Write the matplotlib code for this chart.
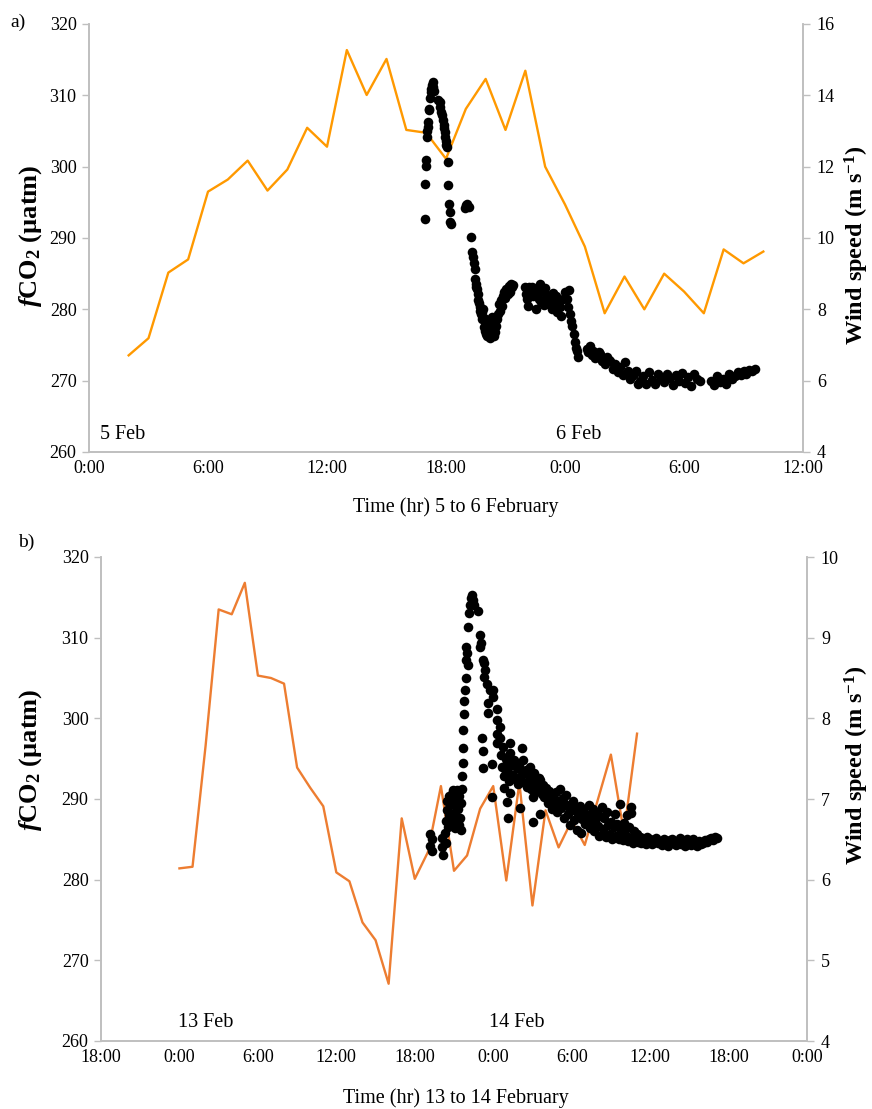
import matplotlib
matplotlib.use("Agg")
import matplotlib.pyplot as plt
import numpy as np

plt.rcParams['font.family'] = ['Liberation Serif', 'DejaVu Serif']
plt.rcParams['mathtext.fontset'] = 'custom'
plt.rcParams['mathtext.rm'] = 'Liberation Serif:bold'
plt.rcParams['mathtext.it'] = 'Liberation Serif:italic:bold'
plt.rcParams['mathtext.bf'] = 'Liberation Serif:bold'

# ---------------- Panel a data (hours since 0:00 on 5 Feb) ----------------
wind_a_hours = [2, 3, 4, 5, 6, 7, 8, 9, 10, 11, 12, 13, 14, 15, 16, 17, 18,
                19, 20, 21, 22, 23, 24, 25, 26, 27, 28, 29, 30, 31, 32, 33, 34]
wind_a_speed = [6.71, 7.19, 9.03, 9.40, 11.30, 11.64, 12.17, 11.33, 11.92, 13.09,
                12.56, 15.27, 14.01, 15.02, 13.03, 12.95, 12.22, 13.62, 14.46,
                13.03, 14.69, 12.00, 10.94, 9.76, 7.89, 8.92, 8.00, 9.00, 8.50,
                7.89, 9.68, 9.29, 9.62]

fco2_a_hours = [
    16.92, 16.95, 16.97, 17.00, 17.03, 17.05, 17.08, 17.10, 17.13, 17.16, 17.20,
    17.23, 17.26, 17.30, 17.33, 17.36, 17.40,
    17.62, 17.68, 17.72, 17.76, 17.80, 17.84, 17.88, 17.90, 17.93, 17.96, 17.99,
    18.02, 18.05, 18.08, 18.12, 18.15, 18.18, 18.20, 18.23,
    18.98, 19.03, 19.08, 19.15, 19.28, 19.33, 19.36, 19.40, 19.44, 19.48, 19.50,
    19.53, 19.57, 19.60, 19.63, 19.67, 19.70, 19.73, 19.77, 19.80, 19.84, 19.87,
    19.90, 19.93, 19.97, 20.00, 20.03, 20.07, 20.10, 20.13, 20.17, 20.20, 20.23,
    20.27, 20.30, 20.33, 20.37, 20.40, 20.44, 20.48, 20.52, 20.57, 20.62, 20.67,
    20.72, 20.78, 20.83, 20.88, 20.93, 20.98, 21.05, 21.12, 21.18, 21.23, 21.30,
    21.35, 21.40,
    21.99, 22.03, 22.08, 22.12, 22.18, 22.25, 22.34, 22.40, 22.48, 22.55, 22.62,
    22.70, 22.74, 22.80, 22.86, 22.92, 23.00, 23.05, 23.10, 23.18, 23.25, 23.32,
    23.40, 23.48, 23.55, 23.62, 23.68, 23.75, 23.82, 23.90, 24.00, 24.08, 24.14,
    24.20, 24.26, 24.32, 24.36, 24.44, 24.50, 24.56, 24.62, 24.66,
    25.11, 25.18, 25.26, 25.34, 25.42, 25.52, 25.62, 25.70, 25.77, 25.85, 25.92,
    26.02, 26.12, 26.20, 26.27, 26.40, 26.53, 26.65, 26.78, 26.90, 27.03, 27.18,
    27.28, 27.38, 27.48, 27.58, 27.68, 27.79,
    27.95, 28.10, 28.25, 28.40, 28.55, 28.70, 28.85, 29.00, 29.15, 29.30, 29.45,
    29.60, 29.75, 29.90, 30.05, 30.20, 30.35, 30.50, 30.65, 30.80,
    31.35, 31.50, 31.65, 31.80, 31.95, 32.10, 32.25, 32.40, 32.55, 32.70, 32.85,
    33.00, 33.15, 33.30, 33.45, 33.60]
fco2_a_values = [
    292.7, 297.6, 300.1, 301.0, 304.2, 305.0, 305.6, 306.3, 307.9, 308.1, 309.6,
    310.4, 310.9, 311.5, 311.8, 311.2, 310.6,
    309.4, 309.0, 308.4, 307.7, 307.2, 306.6, 305.9, 305.4, 304.9, 304.2, 303.6,
    303.0, 302.7, 300.6, 297.4, 294.8, 293.6, 292.3, 291.9,
    294.2, 294.6, 294.7, 294.4, 290.2, 288.0, 287.4, 286.5, 285.6, 284.3, 283.6,
    283.2, 282.8, 282.1, 281.3, 280.9, 280.3, 279.8, 279.3, 278.7, 279.6, 280.0,
    277.5, 278.8, 277.0, 276.6, 278.3, 276.2, 277.7, 278.5, 276.9, 276.0, 278.0,
    277.4, 278.9, 276.5, 277.1, 276.3, 277.9, 276.8, 277.6, 278.6, 279.4, 280.7,
    279.8, 281.3, 280.5, 281.8, 282.4, 281.6, 282.9, 282.2, 283.3, 282.5, 283.5,
    283.1, 283.4,
    283.1, 282.1, 281.4, 280.4, 283.2, 282.9, 283.2, 281.8, 282.8, 280.0, 282.4,
    281.4, 283.5, 281.0, 282.6, 280.6, 283.0, 281.4, 282.0, 280.7, 281.6, 280.0,
    282.3, 280.9, 281.8, 279.6, 281.2, 280.3, 279.0, 281.5, 282.5, 281.4, 280.3,
    282.7, 279.3, 278.4, 277.6, 276.5, 275.4, 274.6, 274.1, 273.3,
    274.4, 274.0, 274.8, 273.6, 274.1, 273.2, 273.4, 274.0, 273.7, 272.8, 273.0,
    272.4, 273.3, 272.9, 272.7, 271.6, 272.3, 271.2, 271.9, 270.8, 272.6, 271.3,
    270.3, 270.6, 271.0, 271.3, 269.6, 269.9,
    270.7, 269.5, 271.2, 270.1, 269.6, 270.9, 270.3, 269.8, 271.0, 270.4, 269.4,
    270.8, 270.0, 271.1, 269.7, 270.5, 269.3, 270.9, 270.2, 269.9,
    270.0, 269.4, 270.6, 269.8, 270.3, 269.5, 270.9, 270.2, 270.7, 271.2, 270.8,
    271.3, 271.0, 271.5, 271.4, 271.7]

# ---------------- Panel b data (hours since 0:00 on 13 Feb) ----------------
wind_b_hours = [0, 1, 2, 3, 4, 5, 6, 7, 8, 9, 10, 11, 12, 13, 14, 15, 16, 17, 18,
                19, 20, 21, 22, 23, 24, 25, 26, 27, 28, 29, 30, 31, 33, 34, 35]
wind_b_speed = [6.14, 6.16, 7.66, 9.35, 9.29, 9.68, 8.53, 8.50, 8.43, 7.39, 7.14,
                6.91, 6.09, 5.98, 5.47, 5.25, 4.71, 6.76, 6.01, 6.34, 7.16, 6.11,
                6.30, 6.88, 7.16, 5.99, 7.20, 5.68, 6.86, 6.40, 6.73, 6.43, 7.55,
                6.58, 7.81]

fco2_b_hours = [
    19.15, 19.20, 19.30, 19.35, 20.05, 20.10, 20.15, 20.30, 20.35,
    20.40, 20.45, 20.50, 20.55, 20.60, 20.65, 20.70, 20.75, 20.80, 20.85, 20.90,
    20.95, 21.00, 21.05, 21.10, 21.15, 21.20, 21.25, 21.30, 21.35, 21.40, 21.45,
    21.50, 21.55, 21.60, 21.62, 21.66,
    21.70, 21.72, 21.74, 21.78, 21.83, 21.90, 21.93, 21.95, 22.00, 22.05, 22.08,
    22.15, 22.22, 22.30, 22.36, 22.42, 22.50, 22.85, 22.97, 23.03, 23.00, 23.20,
    23.30, 23.35, 23.28, 23.50, 23.75, 23.95, 24.00, 23.60, 23.62, 24.30, 24.32,
    24.50, 24.55, 24.28, 24.30, 23.15, 23.22, 23.25, 23.90, 24.75, 25.30, 25.32,
    25.07, 26.20,
    24.60, 24.70, 24.80, 24.85, 24.95, 25.00, 25.10, 25.20, 25.30, 25.40, 25.50,
    25.60, 25.70, 25.80, 25.90, 26.00, 26.10, 26.25, 26.30, 26.40, 26.50, 26.60,
    26.70, 26.80, 26.90, 27.00, 27.10, 27.20, 27.30, 27.40, 27.50, 27.60, 27.70,
    27.80, 27.90, 28.00,
    23.92, 25.07, 25.10, 26.06, 27.06, 27.06, 27.60,
    28.10, 28.20, 28.30, 28.40, 28.50, 28.60, 28.70, 28.80, 28.90, 29.00, 29.10,
    29.20, 29.30, 29.40, 29.50, 29.60, 29.70, 29.80, 29.90, 30.00, 30.10, 30.20,
    30.30, 30.40, 30.50, 30.60, 30.70, 30.80, 30.90, 31.00, 31.10, 31.20, 31.30,
    31.40, 31.50, 31.60, 31.70, 31.80, 31.90, 32.00, 32.10, 32.20,
    32.30, 32.40, 32.50, 32.60, 32.70, 32.80, 32.90, 33.00, 33.10, 33.20, 33.30,
    33.40, 33.50, 33.60, 33.70, 33.80, 33.90, 34.00, 34.10, 34.20, 34.30, 34.40,
    34.50, 34.55, 34.60, 34.70, 34.80, 34.90, 35.00, 35.10, 35.20, 35.30, 35.40,
    35.50,
    35.60, 35.70, 35.80, 35.90, 36.00, 36.15, 36.30, 36.45, 36.60, 36.75, 36.90,
    37.05, 37.20, 37.35, 37.50, 37.65, 37.80, 37.95, 38.10, 38.25, 38.40, 38.55,
    38.70, 38.85, 39.00, 39.15, 39.30, 39.45, 39.60, 39.75, 39.90, 40.05, 40.20,
    40.35, 40.50, 40.65, 40.80, 40.95, 41.10]
fco2_b_values = [
    285.7, 284.2, 285.0, 283.5, 285.2, 284.0, 283.1, 285.8, 284.6,
    287.3, 288.6, 289.8, 286.5, 290.4, 288.0, 289.2, 286.9, 288.0, 290.6, 291.1,
    287.5, 288.3, 289.8, 286.4, 287.1, 291.1, 289.0, 288.8, 290.4, 286.8, 287.6,
    286.1, 289.5, 291.3, 292.9, 294.5,
    296.3, 298.5, 300.5, 302.2, 303.5, 305.0, 307.2, 308.8, 308.1, 306.6, 311.3,
    313.0, 314.0, 314.9, 315.3, 314.7, 314.0, 313.3, 310.3, 309.4, 308.8, 307.2,
    306.8, 306.0, 305.1, 304.3, 303.5, 303.5, 302.6, 301.9, 300.6, 301.2, 299.8,
    298.9, 297.6, 298.1, 296.9, 297.6, 296.0, 293.8, 294.4, 296.4, 296.9, 295.7,
    294.5, 296.3,
    295.5, 294.0, 292.9, 291.4, 293.5, 295.0, 293.8, 292.2, 290.7, 294.3, 293.0,
    294.8, 292.5, 293.9, 291.8, 294.2, 292.8, 294.8, 293.3, 292.0, 293.6, 291.5,
    292.9, 294.0, 291.2, 292.4, 293.2, 290.9, 292.0, 291.0, 292.6, 292.3, 290.6,
    291.7, 290.2, 291.4,
    290.2, 289.6, 287.7, 288.9, 290.2, 287.1, 288.2,
    290.8, 289.5, 291.0, 290.0, 288.7, 290.3, 289.2, 290.9, 288.4, 289.8, 291.2,
    288.9, 290.1, 287.6, 289.4, 290.5, 288.2, 289.0, 286.8, 288.6, 289.7, 287.4,
    288.8, 286.2, 288.0, 289.1, 285.8, 287.5, 288.6, 286.9, 288.1, 287.0, 289.3,
    286.4, 287.8, 288.7, 286.0, 287.3, 288.3, 286.6, 285.4, 287.9,
    289.0, 286.3, 287.6, 285.3, 288.4, 286.8, 285.6, 287.2, 285.0, 286.5, 288.1,
    285.4, 286.9, 285.1, 289.4, 286.2, 284.9, 287.0, 285.6, 288.0, 284.8, 286.5,
    289.0, 288.3, 285.3, 284.6, 286.0, 285.0, 285.6, 284.7, 285.3, 284.5, 285.2,
    284.8,
    285.0, 284.4, 285.3, 284.7, 285.1, 284.4, 284.9, 285.2, 284.5, 284.8, 284.3,
    285.0, 284.6, 284.2, 284.9, 285.1, 284.5, 284.3, 284.8, 285.2, 284.4, 284.7,
    284.2, 285.0, 284.6, 284.3, 285.1, 284.5, 284.2, 284.8, 284.4, 284.6, 284.9,
    284.7, 285.0, 285.2, 284.9, 285.3, 285.2]

ticks_a = [0, 6, 12, 18, 24, 30, 36]
ticklabels_a = ['0:00', '6:00', '12:00', '18:00', '0:00', '6:00', '12:00']
ticks_b = [-6, 0, 6, 12, 18, 24, 30, 36, 42, 48]
ticklabels_b = ['18:00', '0:00', '6:00', '12:00', '18:00', '0:00', '6:00',
                '12:00', '18:00', '0:00']

W, H = 872, 1109
fig = plt.figure(figsize=(W / 100, H / 100), dpi=100)

SP = '#bfbfbf'
TICK_FS = 13
DOT = 48


def frac(x0, y0, x1, y1):
    return [x0 / W, 1 - y1 / H, (x1 - x0) / W, (y1 - y0) / H]


def style(ax, axr):
    for a in (ax, axr):
        for s in a.spines.values():
            s.set_color(SP)
            s.set_linewidth(1.2)
        a.spines['top'].set_visible(False)
    ax.tick_params(axis='y', direction='out', length=5, width=1, color=SP,
                   labelsize=TICK_FS, pad=4)
    ax.tick_params(axis='x', length=0, labelsize=TICK_FS, pad=6)
    axr.tick_params(axis='y', direction='out', length=5, width=1, color=SP,
                    labelsize=TICK_FS, pad=5)


# ---------------- Panel a ----------------
ax1 = fig.add_axes(frac(89, 24, 803, 452))
ax1r = ax1.twinx()
ax1r.plot(wind_a_hours, wind_a_speed, color='#ff9900', lw=1.7, zorder=2)
ax1.scatter(fco2_a_hours, fco2_a_values, s=DOT, color='black', zorder=3,
            linewidths=0)
ax1.set_zorder(ax1r.get_zorder() + 1)
ax1.patch.set_visible(False)
ax1.set_xlim(0, 36)
ax1.set_ylim(260, 320)
ax1.set_yticks(range(260, 321, 10))
ax1r.set_ylim(4, 16)
ax1r.set_yticks(range(4, 17, 2))
ax1.set_xticks(ticks_a)
ax1.set_xticklabels(ticklabels_a)
style(ax1, ax1r)
ax1.text(0.55, 261.1, '5 Feb', fontsize=14.5, ha='left', va='bottom')
ax1.text(24.7, 261.1, '6 Feb', fontsize=14.5, ha='center', va='bottom')

# ---------------- Panel b ----------------
ax2 = fig.add_axes(frac(101, 557, 807, 1041))
ax2r = ax2.twinx()
ax2r.plot(wind_b_hours, wind_b_speed, color='#ed7d31', lw=1.7, zorder=2)
ax2.scatter(fco2_b_hours, fco2_b_values, s=DOT, color='black', zorder=3,
            linewidths=0)
ax2.set_zorder(ax2r.get_zorder() + 1)
ax2.patch.set_visible(False)
ax2.set_xlim(-6, 48)
ax2.set_ylim(260, 320)
ax2.set_yticks(range(260, 321, 10))
ax2r.set_ylim(4, 10)
ax2r.set_yticks(range(4, 11, 1))
ax2.set_xticks(ticks_b)
ax2.set_xticklabels(ticklabels_b)
style(ax2, ax2r)
ax2.text(2.0, 261.1, '13 Feb', fontsize=14.5, ha='center', va='bottom')
ax2.text(25.8, 261.1, '14 Feb', fontsize=14.5, ha='center', va='bottom')

# ---------------- labels ----------------
def ftext(x, y, s, **kw):
    fig.text(x / W, 1 - y / H, s, **kw)

ftext(10, 22, 'a)', fontsize=14, ha='left', va='center')
ftext(18, 542, 'b)', fontsize=14, ha='left', va='center')
ftext(456, 507, 'Time (hr) 5 to 6 February', fontsize=14.5, ha='center', va='center')
ftext(456, 1098, 'Time (hr) 13 to 14 February', fontsize=14.5, ha='center', va='center')
ylab = r'$\it{f}$CO$_2$ (µatm)'
ftext(31, 236, ylab, fontsize=19, fontweight='bold', rotation=90, ha='center', va='center')
ftext(31, 760, ylab, fontsize=19, fontweight='bold', rotation=90, ha='center', va='center')
wlab = r'Wind speed (m s$^{-1}$)'
ftext(857, 245, wlab, fontsize=17.5, fontweight='bold', rotation=90, ha='center', va='center')
ftext(857, 765, wlab, fontsize=17.5, fontweight='bold', rotation=90, ha='center', va='center')

fig.savefig('out.png', dpi=100)
